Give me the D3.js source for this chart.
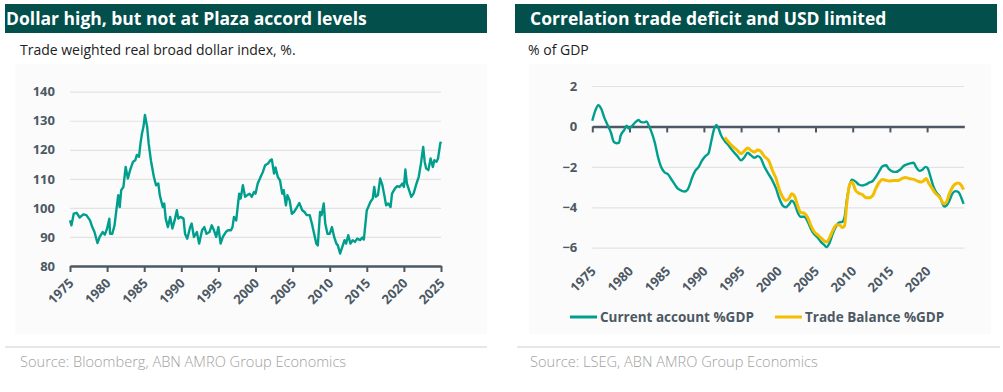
<!DOCTYPE html>
<html>
<head>
<meta charset="utf-8">
<script src="https://cdn.jsdelivr.net/npm/d3@7/dist/d3.min.js"></script>
<style>
  html, body { margin: 0; padding: 0; background: #ffffff; }
  svg { display: block; }
  text { font-family: "Open Sans", "Noto Sans", sans-serif; }
</style>
</head>
<body>
<svg id="chart" width="1003" height="392"></svg>
<script>
// ---------- Data ----------
const leftTitle = "Dollar high, but not at Plaza accord levels";
const leftSubtitle = "Trade weighted real broad dollar index, %.";
const leftSource = "Source:  Bloomberg, ABN AMRO Group Economics";
const rightTitle = "Correlation trade deficit and USD limited";
const rightSubtitle = "% of GDP";
const rightSource = "Source:  LSEG, ABN AMRO Group Economics";

const leftYTicks = [80, 90, 100, 110, 120, 130, 140];
const leftXTicks = [1975, 1980, 1985, 1990, 1995, 2000, 2005, 2010, 2015, 2020, 2025];
const rightYTicks = [-6, -4, -2, 0, 2];
const rightXTicks = [1975, 1980, 1985, 1990, 1995, 2000, 2005, 2010, 2015, 2020];

// Trade weighted real broad dollar index
const dollarYears = [1975.0,1975.2,1975.5,1975.9,1976.3,1976.8,1977.2,1977.7,1978.0,1978.3,1978.7,1979.0,1979.4,1979.7,1980.0,1980.3,1980.4,1980.7,1981.0,1981.5,1981.7,1981.9,1982.2,1982.5,1982.8,1983.1,1983.5,1983.8,1984.0,1984.3,1984.5,1984.7,1984.9,1985.1,1985.4,1985.6,1985.9,1986.3,1986.6,1986.9,1987.1,1987.5,1987.7,1987.9,1988.2,1988.5,1988.8,1989.1,1989.4,1989.6,1989.9,1990.3,1990.5,1990.8,1991.2,1991.4,1991.7,1992.1,1992.4,1992.8,1993.1,1993.4,1993.8,1994.1,1994.4,1994.7,1995.0,1995.3,1995.6,1996.0,1996.3,1996.7,1996.9,1997.1,1997.4,1997.8,1998.0,1998.3,1998.6,1998.9,1999.2,1999.5,1999.8,2000.0,2000.3,2000.7,2001.0,2001.3,2001.7,2002.0,2002.2,2002.5,2002.7,2003.0,2003.3,2003.6,2003.8,2004.1,2004.3,2004.6,2004.9,2005.2,2005.6,2005.9,2006.3,2006.6,2006.9,2007.3,2007.6,2007.9,2008.2,2008.4,2008.7,2008.9,2009.2,2009.4,2009.7,2010.0,2010.3,2010.6,2010.9,2011.1,2011.4,2011.7,2012.0,2012.2,2012.5,2012.8,2013.1,2013.4,2013.7,2014.1,2014.4,2014.6,2015.0,2015.2,2015.5,2015.8,2016.0,2016.2,2016.5,2016.8,2017.1,2017.4,2017.6,2017.9,2018.2,2018.4,2018.8,2019.1,2019.4,2019.8,2020.0,2020.2,2020.4,2020.7,2021.0,2021.3,2021.7,2022.0,2022.3,2022.6,2022.8,2023.0,2023.3,2023.6,2023.9,2024.1,2024.4,2024.6,2024.9,2025.0];
const dollarValues = [95.7,94.0,98.0,98.3,96.7,97.8,97.5,95.7,93.4,91.7,87.9,90.0,91.7,90.8,92.9,96.3,91.1,91.1,94.0,104.4,100.3,106.1,107.2,114.1,110.1,113.0,115.9,116.4,118.2,117.6,122.2,125.6,127.9,132.0,127.9,122.2,116.4,110.7,107.8,108.4,104.4,100.3,101.5,96.3,93.4,96.9,92.9,95.7,99.2,96.3,96.9,96.3,91.1,89.4,93.4,94.6,90.0,91.7,87.7,92.3,93.4,91.1,91.7,94.0,92.3,90.0,93.4,87.7,90.0,91.7,92.3,92.3,93.4,96.9,95.7,104.9,103.2,107.8,103.8,104.4,104.9,103.8,105.5,104.9,108.4,110.7,112.4,114.7,115.3,116.4,116.7,111.8,113.9,110.7,109.5,104.9,106.1,100.9,104.4,102.6,98.0,98.6,100.3,101.7,99.2,98.6,97.5,97.5,94.6,91.1,87.7,87.1,98.6,97.5,101.5,94.6,91.1,91.1,93.4,90.0,87.7,87.1,84.3,86.6,88.9,87.7,90.6,87.7,88.9,88.3,89.4,88.9,89.8,89.1,99.2,100.3,102.1,103.2,107.2,103.8,104.4,110.1,107.8,103.8,100.9,101.5,100.3,104.9,106.7,107.5,107.2,108.4,107.2,113.2,108.4,106.1,103.8,104.9,108.4,110.7,115.3,121.0,115.9,113.6,113.0,117.0,114.1,116.4,115.9,117.0,122.2,122.8];

// Current account % GDP
const caYears = [1975.0,1975.4,1975.8,1976.2,1976.6,1977.1,1977.5,1977.9,1978.3,1978.6,1978.8,1979.3,1979.6,1979.9,1980.3,1980.7,1981.2,1981.5,1982.0,1982.3,1982.6,1982.9,1983.4,1983.8,1984.3,1984.7,1985.2,1985.6,1986.1,1986.5,1987.0,1987.4,1987.8,1988.1,1988.4,1988.8,1989.3,1989.7,1990.2,1990.6,1991.0,1991.3,1991.7,1992.0,1992.3,1992.8,1993.3,1993.9,1994.5,1995.0,1995.4,1995.9,1996.3,1996.8,1997.2,1997.6,1998.1,1998.6,1999.2,1999.7,2000.1,2000.6,2001.0,2001.5,2001.8,2002.2,2002.6,2003.0,2003.5,2003.9,2004.4,2004.8,2005.3,2005.7,2006.2,2006.5,2006.9,2007.3,2007.8,2008.2,2008.6,2008.9,2009.2,2009.6,2009.9,2010.4,2010.8,2011.3,2011.8,2012.2,2012.7,2013.1,2013.6,2014.0,2014.5,2014.8,2015.3,2015.8,2016.4,2016.8,2017.3,2017.7,2018.2,2018.5,2019.0,2019.4,2019.8,2020.1,2020.4,2020.8,2021.2,2021.7,2022.0,2022.3,2022.6,2023.0,2023.4,2023.8,2024.2,2024.6,2024.9];
const caValues = [0.28,0.78,1.05,0.87,0.45,0.03,-0.30,-0.77,-0.83,-0.80,-0.47,-0.17,0.03,-0.10,0.00,0.17,0.32,0.23,0.20,0.25,0.03,-0.22,-0.80,-1.47,-2.05,-2.27,-2.38,-2.60,-2.88,-3.08,-3.18,-3.22,-3.13,-2.88,-2.55,-2.22,-2.00,-1.72,-1.47,-1.35,-0.72,-0.22,0.07,-0.13,-0.43,-0.72,-0.93,-1.22,-1.47,-1.68,-1.55,-1.30,-1.42,-1.55,-1.47,-1.55,-1.97,-2.30,-2.67,-3.08,-3.53,-3.92,-4.00,-3.83,-3.67,-3.83,-4.25,-4.47,-4.47,-4.67,-5.08,-5.33,-5.50,-5.70,-5.87,-5.97,-5.75,-5.33,-4.92,-4.75,-4.72,-4.50,-3.67,-2.87,-2.63,-2.73,-2.87,-2.92,-2.87,-2.78,-2.70,-2.50,-2.20,-1.97,-1.92,-2.08,-2.22,-2.25,-2.13,-1.97,-1.88,-1.83,-1.80,-2.00,-2.20,-2.13,-2.00,-2.08,-2.42,-2.92,-3.25,-3.47,-3.75,-3.97,-3.92,-3.67,-3.33,-3.20,-3.25,-3.53,-3.83];

// Trade balance % GDP
const tbYears = [1992.8,1993.3,1993.9,1994.5,1995.0,1995.4,1995.9,1996.3,1996.8,1997.2,1997.6,1998.1,1998.8,1999.2,1999.7,2000.1,2000.6,2001.0,2001.5,2001.8,2002.2,2002.6,2003.0,2003.5,2003.9,2004.4,2004.8,2005.3,2005.7,2006.2,2006.5,2006.9,2007.3,2007.8,2008.2,2008.6,2008.9,2009.2,2009.6,2009.9,2010.4,2010.8,2011.3,2011.8,2012.2,2012.7,2013.1,2013.6,2014.0,2014.5,2014.9,2015.5,2016.1,2016.6,2017.1,2017.6,2018.2,2018.7,2019.2,2019.5,2019.9,2020.2,2020.7,2021.1,2021.6,2021.9,2022.2,2022.6,2022.9,2023.3,2023.7,2024.2,2024.6,2024.9];
const tbValues = [-0.55,-0.77,-1.00,-1.18,-1.35,-1.22,-1.07,-1.18,-1.27,-1.17,-1.22,-1.47,-1.75,-2.17,-2.58,-3.08,-3.50,-3.67,-3.53,-3.33,-3.47,-3.92,-4.25,-4.30,-4.47,-4.92,-5.20,-5.37,-5.50,-5.67,-5.72,-5.50,-5.17,-4.88,-4.87,-5.00,-4.92,-3.83,-2.87,-2.75,-3.17,-3.30,-3.37,-3.53,-3.53,-3.42,-3.08,-2.75,-2.63,-2.67,-2.70,-2.67,-2.67,-2.58,-2.53,-2.58,-2.62,-2.70,-2.75,-2.70,-2.58,-2.80,-3.08,-3.30,-3.47,-3.63,-3.83,-3.75,-3.42,-3.08,-2.87,-2.80,-2.92,-3.13];

const seriesNames = ["Current account %GDP", "Trade Balance %GDP"];

// ---------- Styles ----------
const TEAL = "#009f8d";
const YELLOW = "#f4bd00";
const HEADER = "#024f4b";
const AXIS = "#4c5863";
const GRID = "#e3e3e3";
const LABEL = "#4c5863";
const FONT = "'Open Sans', 'Noto Sans', sans-serif";

const svg = d3.select("#chart");

// panel backgrounds
svg.append("rect").attr("x", 15).attr("y", 64).attr("width", 472).attr("height", 270).attr("fill", "#fbfbfb");
svg.append("rect").attr("x", 529).attr("y", 64).attr("width", 462).attr("height", 270).attr("fill", "#fbfbfb");

function header(x, w, title, titleX, subtitle, subX) {
  svg.append("rect").attr("x", x).attr("y", 4).attr("width", w).attr("height", 29).attr("fill", HEADER);
  svg.append("text").attr("x", titleX).attr("y", 25).attr("fill", "#fff")
    .attr("font-size", 17.5).attr("font-weight", 700).text(title);
  svg.append("text").attr("x", subX).attr("y", 55).attr("fill", "#222")
    .attr("font-size", 14).text(subtitle);
}
header(5, 482, leftTitle, 6, leftSubtitle, 20);
header(515, 482, rightTitle, 530, rightSubtitle, 528);

function footer(x1, x2, text, tx) {
  svg.append("line").attr("x1", x1).attr("x2", x2).attr("y1", 347).attr("y2", 347)
    .attr("stroke", "#cfcfcf").attr("stroke-width", 1);
  svg.append("text").attr("x", tx).attr("y", 367).attr("fill", "#a0a0a0")
    .attr("font-size", 14.6).attr("font-weight", 300).text(text);
}
footer(5, 487, leftSource, 20);
footer(517, 1000, rightSource, 530);

function styleLabels(sel) {
  sel.attr("fill", LABEL).attr("font-size", 13).attr("font-weight", 700).attr("font-family", FONT);
}

// ---------- Left chart ----------
{
  const x = d3.scaleLinear().domain([1975, 2025]).range([70, 441]);
  const y = d3.scaleLinear().domain([80, 140]).range([266, 91.7]);
  const g = svg.append("g");

  const gy = g.append("g").attr("transform", "translate(70,0)")
    .call(d3.axisLeft(y).tickValues(leftYTicks).tickSize(-371).tickPadding(15));
  gy.select(".domain").remove();
  gy.selectAll(".tick line").attr("stroke", GRID).attr("stroke-width", 1.2);
  styleLabels(gy.selectAll(".tick text"));

  const line = d3.line().x((d, i) => x(dollarYears[i])).y(d => y(d));
  g.append("path").datum(dollarValues).attr("d", line)
    .attr("fill", "none").attr("stroke", TEAL).attr("stroke-width", 2.4).attr("stroke-linejoin", "round");

  const gx = g.append("g").attr("transform", "translate(0,266)")
    .call(d3.axisBottom(x).tickValues(leftXTicks).tickFormat(d3.format("d")).tickSizeInner(6).tickSizeOuter(0));
  gx.select(".domain").attr("stroke", AXIS).attr("stroke-width", 2.5);
  gx.selectAll(".tick line").attr("stroke", AXIS).attr("stroke-width", 2);
  styleLabels(gx.selectAll(".tick text"));
  gx.selectAll(".tick text")
    .attr("text-anchor", "end").attr("y", 0).attr("dy", 0)
    .attr("transform", "translate(4,18) rotate(-45)");
}

// ---------- Right chart ----------
{
  const x = d3.scaleLinear().domain([1975, 2025]).range([592.3, 964.3]);
  const y = d3.scaleLinear().domain([-6, 2]).range([247.7, 86]);
  const g = svg.append("g");

  const gy = g.append("g").attr("transform", "translate(592.3,0)")
    .call(d3.axisLeft(y).tickValues(rightYTicks).tickSize(-372).tickPadding(15));
  gy.select(".domain").remove();
  gy.selectAll(".tick line").attr("stroke", GRID).attr("stroke-width", 1.2);
  styleLabels(gy.selectAll(".tick text"));

  // zero axis with tick marks
  const g0 = g.append("g").attr("transform", `translate(0,${y(0)})`)
    .call(d3.axisBottom(x).tickValues(rightXTicks).tickFormat("").tickSizeInner(6).tickSizeOuter(0));
  g0.select(".domain").attr("stroke", AXIS).attr("stroke-width", 2.5);
  g0.selectAll(".tick line").attr("stroke", AXIS).attr("stroke-width", 2);

  const lineCA = d3.line().x((d, i) => x(caYears[i])).y(d => y(d)).curve(d3.curveMonotoneX);
  const lineTB = d3.line().x((d, i) => x(tbYears[i])).y(d => y(d)).curve(d3.curveMonotoneX);
  g.append("path").datum(caValues).attr("d", lineCA)
    .attr("fill", "none").attr("stroke", TEAL).attr("stroke-width", 2.4).attr("stroke-linejoin", "round");
  g.append("path").datum(tbValues).attr("d", lineTB)
    .attr("fill", "none").attr("stroke", YELLOW).attr("stroke-width", 3).attr("stroke-linejoin", "round");

  // bottom labels
  const gx = g.append("g").attr("transform", "translate(0,254)")
    .call(d3.axisBottom(x).tickValues(rightXTicks).tickFormat(d3.format("d")).tickSize(0));
  gx.select(".domain").remove();
  styleLabels(gx.selectAll(".tick text"));
  gx.selectAll(".tick text")
    .attr("text-anchor", "end").attr("y", 0).attr("dy", 0)
    .attr("transform", "translate(4,18) rotate(-45)");

  // legend
  const lg = g.append("g").attr("transform", "translate(0,317)");
  const items = [{name: seriesNames[0], color: TEAL, x: 570}, {name: seriesNames[1], color: YELLOW, x: 775}];
  items.forEach(it => {
    lg.append("line").attr("x1", it.x).attr("x2", it.x + 27).attr("y1", 0).attr("y2", 0)
      .attr("stroke", it.color).attr("stroke-width", 3);
    lg.append("text").attr("x", it.x + 30).attr("y", 5).attr("fill", LABEL)
      .attr("font-size", 13.5).attr("font-weight", 700).text(it.name);
  });
}
</script>
</body>
</html>
